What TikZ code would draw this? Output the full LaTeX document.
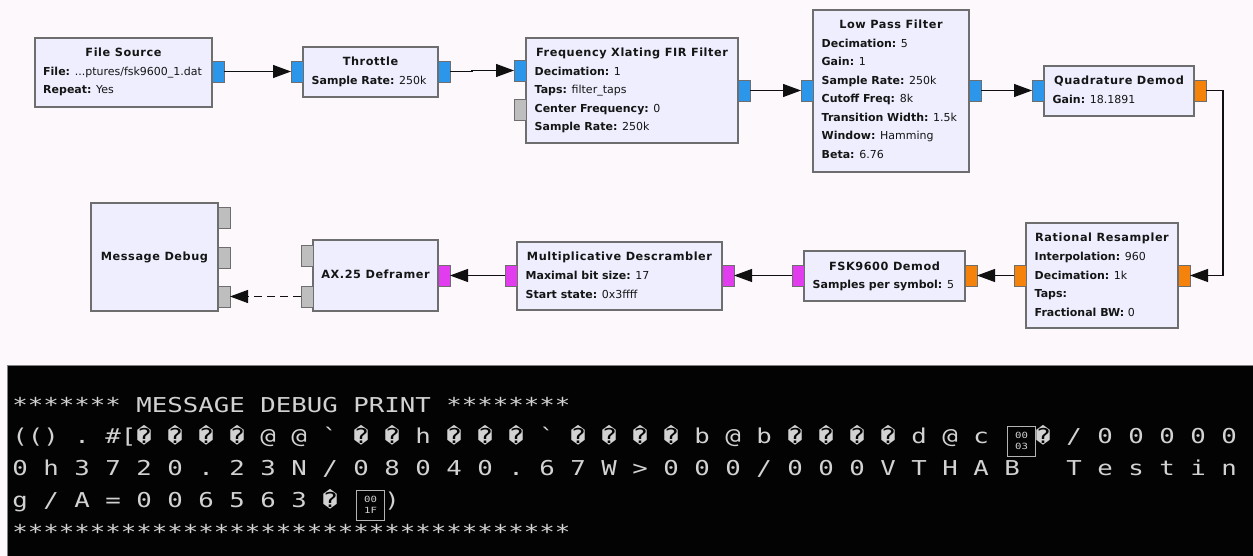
\documentclass[tikz,border=0pt]{standalone}
\usepackage{fontspec}
\setsansfont{DejaVu Sans}
\setmonofont{DejaVu Sans Mono}[FakeStretch=1.256]
\usetikzlibrary{arrows.meta}

\definecolor{canvas}{HTML}{FCF8FC}
\definecolor{blockfill}{HTML}{EEEEFE}
\definecolor{blockline}{HTML}{6E6E6E}
\definecolor{txt}{HTML}{151515}
\definecolor{wirecol}{HTML}{101010}
\definecolor{pcomplex}{HTML}{2C96EA}
\definecolor{pfloat}{HTML}{F5820A}
\definecolor{pbyte}{HTML}{E23CEF}
\definecolor{pmsg}{HTML}{BEBEBE}
\definecolor{termbg}{HTML}{030303}
\definecolor{termedge}{HTML}{808080}
\definecolor{termfg}{HTML}{D2D2D2}
\definecolor{hexedge}{HTML}{B4B4B4}

\tikzset{
  block/.style={draw=blockline, fill=blockfill, line width=1.1pt,
    inner sep=0pt, outer sep=0pt, anchor=north west},
  port/.style={draw=blockline, line width=0.9pt, inner sep=0pt, outer sep=0pt,
    anchor=north west, minimum width=12pt, minimum height=21pt},
  title/.style={font=\sffamily\bfseries\fontsize{11.3}{13}\selectfont\addfontfeatures{LetterSpace=5},
    anchor=base, inner sep=0pt, text=txt},
  param/.style={font=\sffamily\fontsize{11}{13}\selectfont,
    anchor=base west, inner sep=0pt, text=txt},
  wire/.style={line width=1.1pt, draw=wirecol,
    -{Triangle[length=18pt,width=13pt]}},
  termtext/.style={font=\ttfamily\fontsize{20.5}{24}\selectfont,
    execute at begin node={\spaceskip=15.5pt\xspaceskip=15.5pt\relax},
    text=termfg, anchor=base west, inner sep=0pt},
  hexbox/.style={draw=hexedge, line width=1.2pt, anchor=north west,
    minimum width=28pt, minimum height=30pt, inner sep=0pt, align=center,
    text=termfg, font=\ttfamily\fontsize{8.5}{11}\selectfont}
}

\newcommand{\kv}[2]{\textbf{#1} #2}

\begin{document}
\begin{tikzpicture}[x=1pt,y=-1pt]
% canvas
\fill[canvas] (0,0) rectangle (1253,556);
\useasboundingbox (0,0) rectangle (1253,556);

% ---- blocks ----
\node[block, minimum width=177pt, minimum height=69pt]  (fs)   at (35,38)   {};
\node[block, minimum width=135pt, minimum height=50pt]  (thr)  at (303,47)  {};
\node[block, minimum width=212pt, minimum height=105pt] (fxf)  at (526,38)  {};
\node[block, minimum width=156pt, minimum height=162pt] (lpf)  at (813,10)  {};
\node[block, minimum width=150pt, minimum height=50pt]  (qd)   at (1044,66) {};
\node[block, minimum width=152pt, minimum height=105pt] (rr)   at (1026,223) {};
\node[block, minimum width=161pt, minimum height=50pt]  (fsk)  at (804,251) {};
\node[block, minimum width=205pt, minimum height=68pt]  (mdes) at (517,242) {};
\node[block, minimum width=125pt, minimum height=71pt]  (ax)   at (313,240) {};
\node[block, minimum width=127pt, minimum height=108pt] (dbg)  at (91,203)  {};

% ---- ports ----
\node[port, fill=pcomplex] (fs-out)   at (212,61) {};
\node[port, fill=pcomplex] (thr-in)   at (291,61) {};
\node[port, fill=pcomplex] (thr-out)  at (438,61) {};
\node[port, fill=pcomplex] (fxf-in)   at (514,60) {};
\node[port, fill=pmsg]     (fxf-msg)  at (514,99) {};
\node[port, fill=pcomplex] (fxf-out)  at (738,80) {};
\node[port, fill=pcomplex] (lpf-in)   at (801,80) {};
\node[port, fill=pcomplex] (lpf-out)  at (969,80) {};
\node[port, fill=pcomplex] (qd-in)    at (1032,80) {};
\node[port, fill=pfloat]   (qd-out)   at (1194,80) {};
\node[port, fill=pfloat]   (rr-in)    at (1178,265) {};
\node[port, fill=pfloat]   (rr-out)   at (1014,265) {};
\node[port, fill=pfloat]   (fsk-in)   at (965,265) {};
\node[port, fill=pbyte]    (fsk-out)  at (792,265) {};
\node[port, fill=pbyte]    (mdes-in)  at (722,265) {};
\node[port, fill=pbyte]    (mdes-out) at (505,265) {};
\node[port, fill=pbyte]    (ax-in)    at (438,265) {};
\node[port, fill=pmsg]     (ax-m1)    at (301,245) {};
\node[port, fill=pmsg]     (ax-m2)    at (301,286) {};
\node[port, fill=pmsg]     (dbg-m1)   at (218,207) {};
\node[port, fill=pmsg]     (dbg-m2)   at (218,247) {};
\node[port, fill=pmsg]     (dbg-m3)   at (218,286) {};

% ---- block labels ----
\node[title] (fs-t)  at (123.5,57) {File Source};
\node[param] (fs-p1) at (43,75.5)  {\kv{File:}{...ptures/fsk9600\_1.dat}};
\node[param] (fs-p2) at (43,94)    {\kv{Repeat:}{Yes}};

\node[title] (thr-t)  at (370.5,66) {Throttle};
\node[param] (thr-p1) at (311.5,84.5) {\kv{Sample Rate:}{250k}};

\node[title] (fxf-t)  at (632,57) {Frequency Xlating FIR Filter};
\node[param] (fxf-p1) at (534.5,75.5) {\kv{Decimation:}{1}};
\node[param] (fxf-p2) at (534.5,94)   {\kv{Taps:}{filter\_taps}};
\node[param] (fxf-p3) at (534.5,112.5){\kv{Center Frequency:}{0}};
\node[param] (fxf-p4) at (534.5,131)  {\kv{Sample Rate:}{250k}};

\node[title] (lpf-t)  at (891,29) {Low Pass Filter};
\node[param] (lpf-p1) at (821.5,47.5)  {\kv{Decimation:}{5}};
\node[param] (lpf-p2) at (821.5,66)    {\kv{Gain:}{1}};
\node[param] (lpf-p3) at (821.5,84.5)  {\kv{Sample Rate:}{250k}};
\node[param] (lpf-p4) at (821.5,103)   {\kv{Cutoff Freq:}{8k}};
\node[param] (lpf-p5) at (821.5,121.5) {\kv{Transition Width:}{1.5k}};
\node[param] (lpf-p6) at (821.5,140)   {\kv{Window:}{Hamming}};
\node[param] (lpf-p7) at (821.5,158.5) {\kv{Beta:}{6.76}};

\node[title] (qd-t)  at (1119,85) {Quadrature Demod};
\node[param] (qd-p1) at (1052.5,103.5) {\kv{Gain:}{18.1891}};

\node[title] (rr-t)  at (1102,242) {Rational Resampler};
\node[param] (rr-p1) at (1034.5,260.5) {\kv{Interpolation:}{960}};
\node[param] (rr-p2) at (1034.5,279)   {\kv{Decimation:}{1k}};
\node[param] (rr-p3) at (1034.5,297.5) {\kv{Taps:}{}};
\node[param] (rr-p4) at (1034.5,316)   {\kv{Fractional BW:}{0}};

\node[title] (fsk-t)  at (884.5,270) {FSK9600 Demod};
\node[param] (fsk-p1) at (812.5,288.5) {\kv{Samples per symbol:}{5}};

\node[title] (mdes-t)  at (619.5,261) {Multiplicative Descrambler};
\node[param] (mdes-p1) at (525.5,279.5) {\kv{Maximal bit size:}{17}};
\node[param] (mdes-p2) at (525.5,298)   {\kv{Start state:}{0x3ffff}};

\node[title] (ax-t)  at (375.5,278.5) {AX.25 Deframer};
\node[title] (dbg-t) at (154.5,260)   {Message Debug};

% ---- connections ----
\draw[wire] (fs-out.east) -- (thr-in.west);
\draw[wire] (thr-out.east) -- ++(22,0) |- (fxf-in.west);
\draw[wire] (fxf-out.east) -- (lpf-in.west);
\draw[wire] (lpf-out.east) -- (qd-in.west);
\coordinate (bend) at (1223,90.5);
\draw[wire] (qd-out.east) -- (bend) |- (rr-in.east);
\draw[wire] (rr-out.west) -- (fsk-in.east);
\draw[wire] (fsk-out.west) -- (mdes-in.east);
\draw[wire] (mdes-out.west) -- (ax-in.east);
\draw[wire, dash pattern=on 8pt off 5pt] (ax-m2.west) -- (dbg-m3.east);

% ---- console ----
\node[draw=termedge, fill=termbg, line width=1pt, anchor=north west, inner sep=0pt,
      minimum width=1247pt, minimum height=192pt] (term) at (7,365) {};
\node[termtext] (tl1) at (12.25,412) {******* MESSAGE DEBUG PRINT ********};
\node[termtext] (tl2) at (12.25,443.5)
  {(() . \#[� � � � @ @ ` � � h � � � ` � � � � b @ b � � � � d @ c \hspace{31pt}� / 0 0 0 0 0};
\node[termtext] (tl3) at (12.25,475.5)
  {0 h 3 7 2 0 . 2 3 N / 0 8 0 4 0 . 6 7 W > 0 0 0 / 0 0 0 V T H A B\ \ \ T e s t i n};
\node[termtext] (tl4) at (12.25,507.5) {g / A = 0 0 6 5 6 3 � \hspace{31pt})};
\node[termtext] (tl5) at (12.25,539.5) {************************************};
\node[hexbox] (hex1) at (1007,425.5) {00\\03};
\node[hexbox] (hex2) at (356,489.5)  {00\\1F};
\end{tikzpicture}
\end{document}
